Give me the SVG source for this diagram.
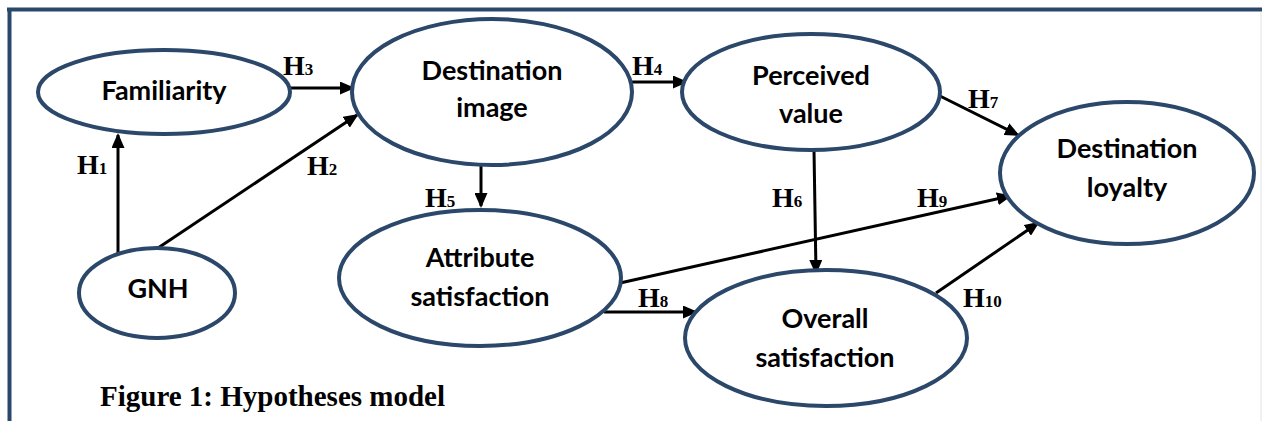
<svg xmlns="http://www.w3.org/2000/svg" width="1262" height="421" viewBox="0 0 1262 421">
<style>
.node ellipse{fill:#ffffff;stroke:#2b4769;stroke-width:4}
.node text{font-family:Lato,"Open Sans","Liberation Sans",sans-serif;font-weight:700;font-size:27px;fill:#000;text-anchor:middle}
.conn line{stroke:#000;stroke-width:3;marker-end:url(#arr)}
.lbl{font-family:"Liberation Serif","DejaVu Serif",serif;font-weight:700;font-size:28px;fill:#000}
.lbl tspan{font-size:17px}
.cap{font-family:"Liberation Serif","DejaVu Serif",serif;font-weight:700;font-size:29px;fill:#000}
</style>
<defs>
<marker id="arr" markerUnits="userSpaceOnUse" markerWidth="15" markerHeight="13" refX="13" refY="6.5" orient="auto">
<path d="M0,0 L15,6.5 L0,13 z" fill="#000"/>
</marker>
</defs>
<rect width="1262" height="421" fill="#ffffff"/>
<g id="frame">
<line x1="7" y1="9.5" x2="1262" y2="9.5" stroke="#2b4769" stroke-width="4"/>
<line x1="9.5" y1="8" x2="9.5" y2="421" stroke="#2b4769" stroke-width="4"/>
<line x1="1261" y1="12" x2="1261" y2="421" stroke="#e2e2e2" stroke-width="1"/>
</g>
<g id="connectors" class="conn">
<line x1="118" y1="258" x2="118" y2="135"/>
<line x1="158" y1="248" x2="357" y2="115"/>
<line x1="290" y1="88" x2="353" y2="88"/>
<line x1="632" y1="82" x2="686" y2="82"/>
<line x1="481" y1="165" x2="481" y2="206"/>
<line x1="814" y1="150" x2="816" y2="273"/>
<line x1="940" y1="96" x2="1018" y2="135"/>
<line x1="620" y1="283" x2="1010" y2="196"/>
<line x1="604" y1="312" x2="696" y2="312"/>
<line x1="936" y1="293" x2="1038" y2="223"/>
</g>
<g id="labels">
<text class="lbl" x="77" y="174">H<tspan>1</tspan></text>
<text class="lbl" x="307" y="175">H<tspan>2</tspan></text>
<text class="lbl" x="283" y="75">H<tspan>3</tspan></text>
<text class="lbl" x="632" y="75">H<tspan>4</tspan></text>
<text class="lbl" x="425" y="207">H<tspan>5</tspan></text>
<text class="lbl" x="772" y="207">H<tspan>6</tspan></text>
<text class="lbl" x="968" y="108">H<tspan>7</tspan></text>
<text class="lbl" x="638" y="307">H<tspan>8</tspan></text>
<text class="lbl" x="917" y="207">H<tspan>9</tspan></text>
<text class="lbl" x="963" y="307">H<tspan>10</tspan></text>
</g>
<g id="familiarity" class="node">
<ellipse cx="164" cy="92" rx="126" ry="42"/>
<text x="164" y="100">Familiarity</text>
</g>
<g id="destination-image" class="node">
<ellipse cx="492" cy="92" rx="140" ry="73"/>
<text x="492" y="80">Destination</text>
<text x="492" y="117">image</text>
</g>
<g id="perceived-value" class="node">
<ellipse cx="811" cy="92" rx="129" ry="58"/>
<text x="811" y="85">Perceived</text>
<text x="811" y="123">value</text>
</g>
<g id="gnh" class="node">
<ellipse cx="157" cy="293" rx="78" ry="45"/>
<text x="158" y="298">GNH</text>
</g>
<g id="attribute-satisfaction" class="node">
<ellipse cx="480" cy="278" rx="141" ry="68"/>
<text x="480" y="267">Attribute</text>
<text x="480" y="306">satisfaction</text>
</g>
<g id="overall-satisfaction" class="node">
<ellipse cx="826" cy="338" rx="141" ry="68"/>
<text x="825" y="328">Overall</text>
<text x="825" y="367">satisfaction</text>
</g>
<g id="destination-loyalty" class="node">
<ellipse cx="1127" cy="173" rx="127" ry="71"/>
<text x="1127" y="158">Destination</text>
<text x="1127" y="197">loyalty</text>
</g>
<text class="cap" x="100" y="406">Figure 1: Hypotheses model</text>
</svg>
